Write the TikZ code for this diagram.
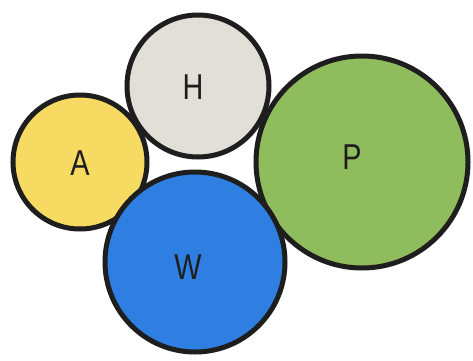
\documentclass[tikz,border=0pt]{standalone}
\usepackage{fontspec}
\setmainfont{Liberation Sans}
\definecolor{cA}{HTML}{F6DA62}
\definecolor{cH}{HTML}{E2DFD8}
\definecolor{cP}{HTML}{8FBC5C}
\definecolor{cW}{HTML}{2F7FE2}
\definecolor{ink}{HTML}{1E1E1E}
\begin{document}
\begin{tikzpicture}[x=1pt,y=1pt,
  bubble/.style={circle,draw=ink,line width=5pt,inner sep=0pt},
  letter/.style={font=\fontsize{36}{36}\selectfont,text=ink,xscale=0.8}]
\useasboundingbox (0,0) rectangle (473,360);
\fill[white] (0,0) rectangle (473,360);
\node[bubble,fill=cA,minimum size=134pt] (A) at (80,198) {};
\node[bubble,fill=cH,minimum size=142pt] (H) at (198,274) {};
\node[bubble,fill=cP,minimum size=212pt] (P) at (362,198) {};
\node[bubble,fill=cW,minimum size=180pt] (W) at (195,98) {};
\node[letter] (tA) at (80,197) {A};
\node[letter] (tH) at (193,273) {H};
\node[letter] (tP) at (352,203) {P};
\node[letter] (tW) at (188,93) {W};
\end{tikzpicture}
\end{document}
